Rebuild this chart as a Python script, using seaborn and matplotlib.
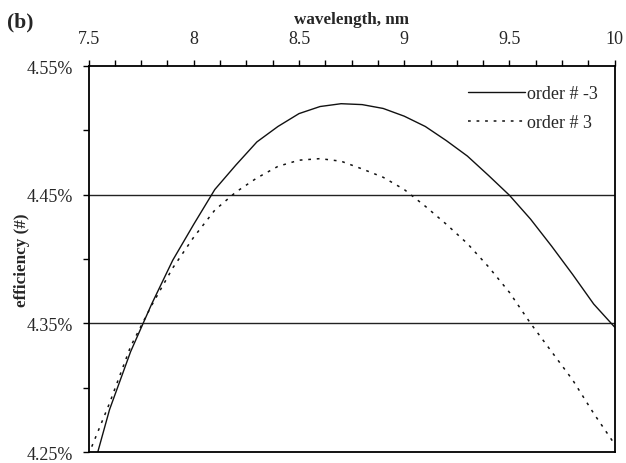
import numpy as np
import pandas as pd
import matplotlib
matplotlib.use("Agg")
import matplotlib.pyplot as plt
import seaborn as sns
from matplotlib.ticker import MultipleLocator, FixedLocator

wavelength = [7.5, 7.6, 7.7, 7.8, 7.9, 8.0, 8.1, 8.2, 8.3, 8.4, 8.5, 8.6, 8.7,
              8.8, 8.9, 9.0, 9.1, 9.2, 9.3, 9.4, 9.5, 9.6, 9.7, 9.8, 9.9, 10.0]
order_m3 = [4.224, 4.283, 4.328, 4.365, 4.399, 4.427, 4.454, 4.473, 4.491, 4.503,
            4.513, 4.5185, 4.5207, 4.520, 4.517, 4.511, 4.503, 4.492, 4.480, 4.465,
            4.4495, 4.431, 4.410, 4.388, 4.365, 4.347]
order_p3 = [4.248, 4.288, 4.332, 4.364, 4.393, 4.417, 4.438, 4.452, 4.463, 4.472,
            4.4768, 4.478, 4.476, 4.470, 4.4635, 4.454, 4.441, 4.427, 4.412, 4.394,
            4.374, 4.350, 4.328, 4.306, 4.280, 4.256]
series_labels = ["order # -3", "order # 3"]
x_ticks = [7.5, 8, 8.5, 9, 9.5, 10]
x_ticklabels = ["7.5", "8", "8.5", "9", "9.5", "10"]
y_ticks = [4.25, 4.35, 4.45, 4.55]
y_ticklabels = ["4.25%", "4.35%", "4.45%", "4.55%"]

sns.set_style("ticks")
plt.rcParams["font.family"] = ["Liberation Serif", "DejaVu Serif"]
plt.rcParams["font.size"] = 13

fig = plt.figure(figsize=(6.26, 4.64), dpi=100)
ax = fig.add_axes([0.1414, 0.0237, 0.8406, 0.8319])

df1 = pd.DataFrame({"x": wavelength, "y": order_m3})
df2 = pd.DataFrame({"x": wavelength, "y": order_p3})
sns.lineplot(data=df1, x="x", y="y", ax=ax, color="#111111", lw=1.0,
             label=series_labels[0], estimator=None, sort=False)
sns.lineplot(data=df2, x="x", y="y", ax=ax, color="#111111", lw=1.1,
             label=series_labels[1], estimator=None, sort=False)
ax.lines[1].set_linestyle((0, (1.8, 3.8)))

for yv in y_ticks[1:3]:
    ax.axhline(yv, color="#222222", lw=1.0, zorder=1)

ax.set_xlim(7.5, 10)
ax.set_ylim(4.25, 4.55)
ax.xaxis.tick_top()
ax.xaxis.set_label_position("top")
ax.xaxis.set_major_locator(FixedLocator(x_ticks))
ax.set_xticklabels(x_ticklabels)
ax.xaxis.set_minor_locator(MultipleLocator(0.125))
ax.yaxis.set_major_locator(FixedLocator(y_ticks))
ax.set_yticklabels(y_ticklabels)
ax.yaxis.set_minor_locator(MultipleLocator(0.05))

ax.tick_params(axis="x", which="both", direction="out", length=4, width=1,
               color="black", pad=10, labelsize=13, top=True, bottom=False)
ax.tick_params(axis="y", which="both", direction="out", length=4, width=1,
               color="black", pad=7.5, labelsize=13)

for s in ax.spines.values():
    s.set_visible(True)
    s.set_linewidth(1.3)
    s.set_color("black")

ax.set_xlabel("wavelength, nm", fontweight="bold", fontsize=12.3, labelpad=5)
ax.set_ylabel("efficiency (#)", fontweight="bold", fontsize=12.3, labelpad=-2.5)

fig.text(0.011, 0.951, "(b)", fontweight="bold", fontsize=15.5, va="center", ha="left")

leg = ax.legend(loc="upper right", bbox_to_anchor=(0.968, 0.951), frameon=False,
                handlelength=3.15, handletextpad=0.1, labelspacing=0.68,
                borderaxespad=0, borderpad=0, fontsize=13)

fig.savefig("out.png", dpi=100)
